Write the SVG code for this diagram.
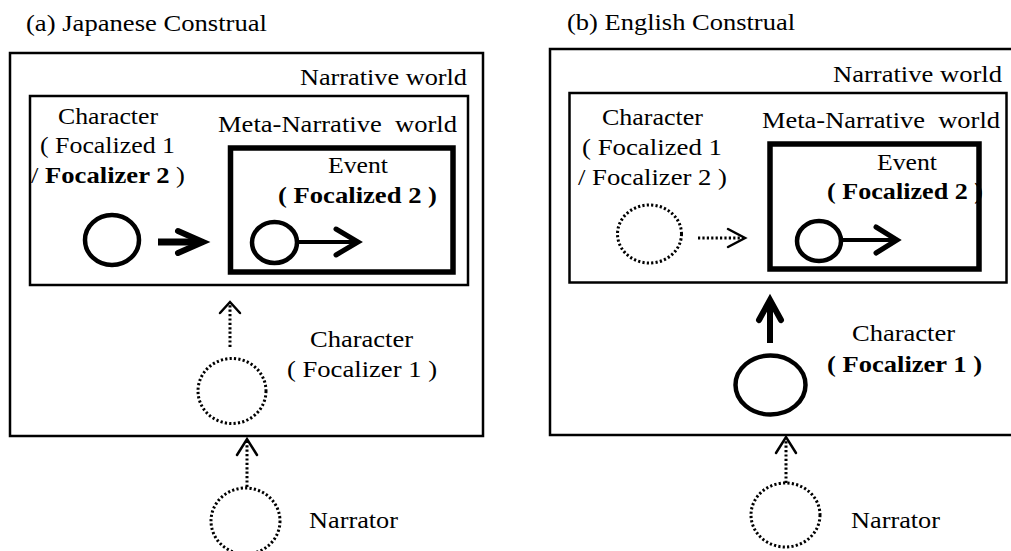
<svg xmlns="http://www.w3.org/2000/svg" width="1011" height="551" viewBox="0 0 1011 551" font-family="Liberation Serif" font-size="23">
<style>
.b{font-weight:bold}
.box{fill:none;stroke:#000;stroke-width:2.5}
.meta{fill:none;stroke:#000;stroke-width:5.5}
.solid{fill:none;stroke:#000;stroke-width:4.5}
.dot{fill:none;stroke:#000;stroke-width:3;stroke-dasharray:2.2 2.2}
.dl{stroke:#000;stroke-width:3;stroke-dasharray:2.2 2.2}
.head{fill:none;stroke:#000;stroke-linecap:round;stroke-linejoin:miter}
</style>
<rect width="1011" height="551" fill="#fff"/>
<g id="panel-a">
  <text x="26" y="31" font-family="Liberation Serif" textLength="241" lengthAdjust="spacingAndGlyphs">(a) Japanese Construal</text>
  <g id="a-narrative-world">
    <rect class="box" x="10" y="53" width="473" height="383"/>
    <text x="300" y="85" font-family="Liberation Serif" textLength="167" lengthAdjust="spacingAndGlyphs">Narrative world</text>
  </g>
  <g id="a-inner-world">
    <rect class="box" x="30" y="96" width="438" height="189"/>
  </g>
  <g id="a-character2">
    <text x="58" y="124" font-family="Liberation Serif" textLength="100" lengthAdjust="spacingAndGlyphs">Character</text>
    <text x="40" y="153" font-family="Liberation Serif" textLength="135" lengthAdjust="spacingAndGlyphs">( Focalized 1</text>
    <text x="31" y="183" font-family="Liberation Serif" textLength="154" lengthAdjust="spacingAndGlyphs">/ <tspan class="b">Focalizer 2</tspan> )</text>
    <ellipse class="solid" cx="112" cy="240" rx="27" ry="25"/>
  </g>
  <g id="a-meta-world">
    <rect class="meta" x="230.5" y="148" width="222.5" height="124"/>
    <text x="218" y="132" font-family="Liberation Serif" textLength="239" lengthAdjust="spacingAndGlyphs">Meta-Narrative&#160; world</text>
  </g>
  <g id="a-event">
    <text x="328" y="173" font-family="Liberation Serif" textLength="60" lengthAdjust="spacingAndGlyphs">Event</text>
    <text class="b" x="278" y="203" font-family="Liberation Serif" textLength="159" lengthAdjust="spacingAndGlyphs">( Focalized 2 )</text>
    <ellipse class="solid" cx="274.5" cy="242.5" rx="22.5" ry="20.5"/>
  </g>
  <g id="a-character1">
    <ellipse class="dot" cx="232" cy="391" rx="34" ry="32.5"/>
    <text x="310" y="347" font-family="Liberation Serif" textLength="103" lengthAdjust="spacingAndGlyphs">Character</text>
    <text x="287" y="377" font-family="Liberation Serif" textLength="150" lengthAdjust="spacingAndGlyphs">( Focalizer 1 )</text>
  </g>
  <g id="a-narrator">
    <ellipse class="dot" cx="245.5" cy="521" rx="34.5" ry="33"/>
    <text x="309" y="528" font-family="Liberation Serif" textLength="89" lengthAdjust="spacingAndGlyphs">Narrator</text>
  </g>
</g>
<g id="panel-b">
  <text x="567" y="30" font-family="Liberation Serif" textLength="228" lengthAdjust="spacingAndGlyphs">(b) English Construal</text>
  <g id="b-narrative-world">
    <rect class="box" x="550" y="49" width="470" height="386"/>
    <text x="833" y="82" font-family="Liberation Serif" textLength="169" lengthAdjust="spacingAndGlyphs">Narrative world</text>
  </g>
  <g id="b-inner-world">
    <rect class="box" x="569.5" y="93" width="437" height="189.5"/>
  </g>
  <g id="b-character2">
    <text x="602" y="125" font-family="Liberation Serif" textLength="101" lengthAdjust="spacingAndGlyphs">Character</text>
    <text x="582" y="155" font-family="Liberation Serif" textLength="140" lengthAdjust="spacingAndGlyphs">( Focalized 1</text>
    <text x="578" y="185" font-family="Liberation Serif" textLength="149" lengthAdjust="spacingAndGlyphs">/ Focalizer 2 )</text>
    <ellipse class="dot" cx="649.5" cy="234" rx="32" ry="29"/>
  </g>
  <g id="b-meta-world">
    <rect class="meta" x="770" y="144" width="209" height="125"/>
    <text x="762" y="128" font-family="Liberation Serif" textLength="238" lengthAdjust="spacingAndGlyphs">Meta-Narrative&#160; world</text>
  </g>
  <g id="b-event">
    <text x="877" y="170" font-family="Liberation Serif" textLength="60" lengthAdjust="spacingAndGlyphs">Event</text>
    <text class="b" x="827" y="199" font-family="Liberation Serif" textLength="156" lengthAdjust="spacingAndGlyphs">( Focalized 2 )</text>
    <ellipse class="solid" cx="819" cy="241" rx="22" ry="20"/>
  </g>
  <g id="b-character1">
    <ellipse class="solid" cx="770.5" cy="385" rx="35" ry="29.5" stroke-width="5"/>
    <text x="852" y="341" font-family="Liberation Serif" textLength="103" lengthAdjust="spacingAndGlyphs">Character</text>
    <text class="b" x="827" y="372" font-family="Liberation Serif" textLength="155" lengthAdjust="spacingAndGlyphs">( Focalizer 1 )</text>
  </g>
  <g id="b-narrator">
    <ellipse class="dot" cx="785.5" cy="515" rx="34.5" ry="32"/>
    <text x="851" y="528" font-family="Liberation Serif" textLength="89" lengthAdjust="spacingAndGlyphs">Narrator</text>
  </g>
</g>
<g id="connectors">
  <line x1="158" y1="242" x2="200" y2="242" stroke="#000" stroke-width="7"/>
  <polyline class="head" points="178,231 203,242 178,253" stroke-width="6"/>
  <line x1="297" y1="242" x2="356" y2="242" stroke="#000" stroke-width="4"/>
  <polyline class="head" points="336,229 358,242 336,255" stroke-width="5"/>
  <line class="dl" x1="230" y1="347" x2="230" y2="304"/>
  <polyline class="head" points="220,313 230,302 240,313" stroke-width="2.5"/>
  <line class="dl" x1="247" y1="487" x2="247" y2="441"/>
  <polyline class="head" points="237,455 247,439 257,455" stroke-width="2.5"/>
  <line class="dl" x1="698" y1="238" x2="743" y2="238"/>
  <polyline class="head" points="728,229 745,238 728,247" stroke-width="2.5"/>
  <line x1="841" y1="240" x2="895" y2="240" stroke="#000" stroke-width="4"/>
  <polyline class="head" points="876,227 897,240 876,253" stroke-width="5"/>
  <line x1="770" y1="343" x2="770" y2="302" stroke="#000" stroke-width="6"/>
  <polyline class="head" points="759,320 770,300 781,320" stroke-width="6"/>
  <line class="dl" x1="786" y1="483" x2="786" y2="439"/>
  <polyline class="head" points="776,453 786,437 796,453" stroke-width="2.5"/>
</g>
</svg>
